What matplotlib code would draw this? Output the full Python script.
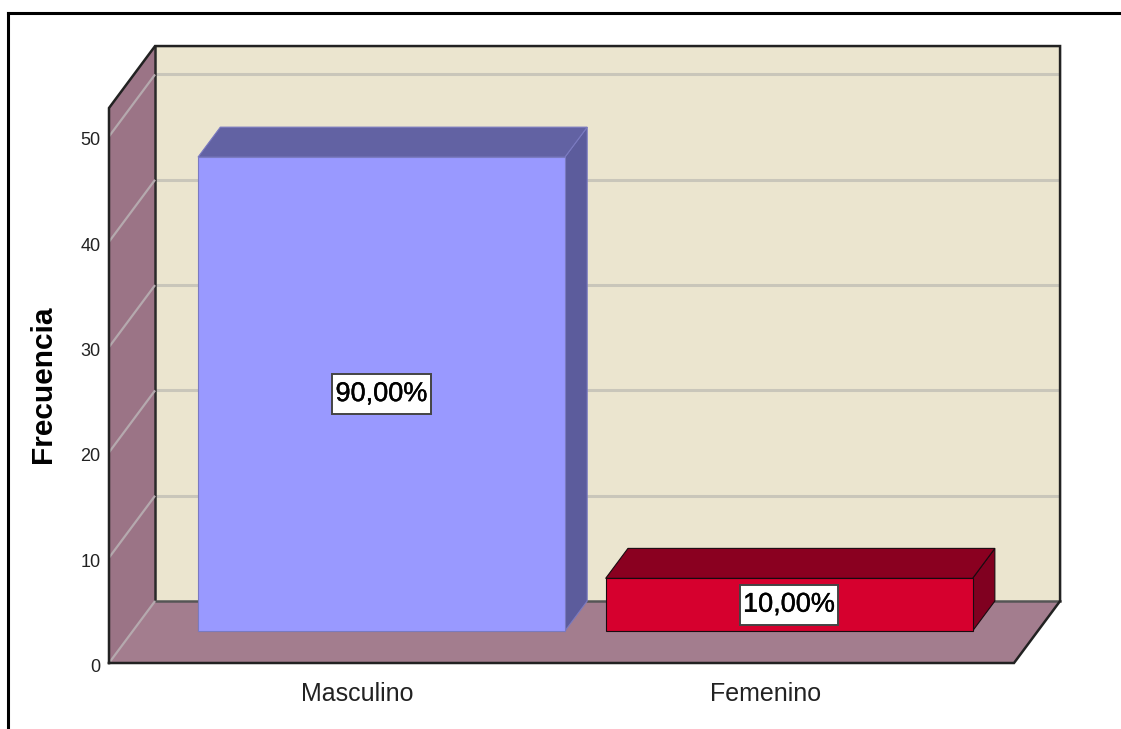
"""Frecuencia por sexo, barras 3D estilo SPSS."""

import matplotlib
matplotlib.use("Agg")
import matplotlib.patheffects as pe
import matplotlib.pyplot as plt
from matplotlib.lines import Line2D
from matplotlib.patches import Polygon, Rectangle
from matplotlib.transforms import ScaledTranslation

categorias = ["Masculino", "Femenino"]
frecuencia = [45, 5]
etiquetas = ["90,00%", "10,00%"]
marcas_y = [0, 10, 20, 30, 40, 50]

W, H = 1121, 729
Y_MAX = 52.7
X_MIN, X_MAX = -0.61, 1.61
# profundidad de la caja en unidades de datos
DX = 46 / 407
DY = 62 / 10.54
Z_BARRA = 0.516  # las barras van de este punto hasta el fondo
ANCHO = 0.9
CAJA_W, CAJA_H = 98 / 407, 40 / 10.54  # recuadro de las etiquetas

PARED = "#9B7486"
PISO = "#A37D8E"
FONDO = "#EBE5CF"
ESTILOS = [("#9999FF", "#6262A3", "#5C5C9C"), ("#D6002E", "#8A0020", "#800020")]
BORDES = ["#7A7AC0", "#1A0A10"]

plt.rcParams["font.family"] = ["Liberation Sans", "DejaVu Sans"]


def p(x, y, z=0.0):
    return (x + z * DX, y + z * DY)


def cara(ax, puntos, color, borde="none", lw=0.0, zorder=1):
    ax.add_patch(Polygon(puntos, closed=True, facecolor=color, edgecolor=borde,
                         linewidth=lw, clip_on=False, zorder=zorder))


fig = plt.figure(figsize=(W / 100, H / 100), dpi=100, facecolor="white")
ax = fig.add_axes([109 / W, 1 - 663 / H, (1014 - 109) / W, (663 - 108) / H])
ax.set_xlim(X_MIN, X_MAX)
ax.set_ylim(0, Y_MAX)
ax.patch.set_visible(False)
for s in ax.spines.values():
    s.set_visible(False)

# caja
BORDE = "#222222"
cara(ax, [p(X_MIN, 0, 1), p(X_MAX, 0, 1), p(X_MAX, Y_MAX, 1), p(X_MIN, Y_MAX, 1)],
     FONDO, zorder=1)
cara(ax, [p(X_MIN, 0), p(X_MIN, 0, 1), p(X_MIN, Y_MAX, 1), p(X_MIN, Y_MAX)],
     PARED, zorder=1)
cara(ax, [p(X_MIN, 0), p(X_MAX, 0), p(X_MAX, 0, 1), p(X_MIN, 0, 1)],
     PISO, zorder=2)

for v in marcas_y:
    x0, y0 = p(X_MIN, v)
    x1, y1 = p(X_MIN, v, 1)
    x2, y2 = p(X_MAX, v, 1)
    ax.plot([x0, x1], [y0, y1], color="#B5A9AE", lw=1.6, clip_on=False, zorder=3,
            solid_capstyle="butt")
    if v > 0:
        ax.plot([x1, x2], [y1, y2], color="#C9C6BA", lw=2.2, clip_on=False, zorder=1.5,
                solid_capstyle="butt")

# contorno de la caja
xs, ys = zip(p(X_MIN, 0), p(X_MIN, Y_MAX), p(X_MIN, Y_MAX, 1), p(X_MAX, Y_MAX, 1),
             p(X_MAX, 0, 1), p(X_MAX, 0), p(X_MIN, 0))
ax.plot(xs, ys, color=BORDE, lw=1.8, clip_on=False, zorder=3, solid_joinstyle="miter")
xs, ys = zip(p(X_MIN, 0, 1), p(X_MIN, Y_MAX, 1))
ax.plot(xs, ys, color="#2A2A2A", lw=1.8, clip_on=False, zorder=1.6)
xs, ys = zip(p(X_MIN, 0, 1), p(X_MAX, 0, 1))
ax.plot(xs, ys, color="#555555", lw=1.8, clip_on=False, zorder=2.1)

# barras
for i, valor in enumerate(frecuencia):
    frente, arriba, lado = ESTILOS[i]
    a, b = i - ANCHO / 2, i + ANCHO / 2
    z0, z1 = Z_BARRA, 1.0
    cara(ax, [p(a, 0, z0), p(b, 0, z0), p(b, 0, z1), p(a, 0, z1)], PISO, zorder=4)
    cara(ax, [p(b, 0, z0), p(b, 0, z1), p(b, valor, z1), p(b, valor, z0)],
         lado, BORDES[i], 0.8, zorder=5)
    cara(ax, [p(a, valor, z0), p(b, valor, z0), p(b, valor, z1), p(a, valor, z1)],
         arriba, BORDES[i], 0.8, zorder=5)
    cara(ax, [p(a, 0, z0), p(b, 0, z0), p(b, valor, z0), p(a, valor, z0)],
         frente, BORDES[i], 0.8, zorder=6)
    cx, cy = p(i, valor / 2, z0)
    ax.add_patch(Rectangle((cx - CAJA_W / 2, cy - CAJA_H / 2), CAJA_W, CAJA_H,
                           facecolor="white", edgecolor="#444444", linewidth=1.4, zorder=7))
    ax.text(cx, cy, etiquetas[i], ha="center", va="center", fontsize=19.5, color="black",
            zorder=8, path_effects=[pe.withStroke(linewidth=0.3, foreground="black")])

ax.set_xticks(range(len(categorias)))
ax.set_xticklabels(categorias, fontsize=18, color="#222222")
ax.set_yticks(marcas_y)
ax.set_yticklabels([str(v) for v in marcas_y], fontsize=13, color="#222222")
ax.tick_params(axis="x", length=0, pad=14)
ax.tick_params(axis="y", length=0, pad=6)
bajar = ScaledTranslation(0, -2.5 / 100, fig.dpi_scale_trans)
for lab in ax.get_yticklabels():
    lab.set_transform(lab.get_transform() + bajar)
ax.set_ylabel("Frecuencia", fontsize=21.5, fontweight="bold")
ax.yaxis.set_label_coords((57 - 109) / (1014 - 109), (663 - 384) / (663 - 108))

# marco exterior
fig.add_artist(Line2D([8 / W, 8 / W], [0, 1 - 13 / H], color="black", lw=2.2,
                      solid_capstyle="projecting"))
fig.add_artist(Line2D([8 / W, 1], [1 - 13 / H, 1 - 13 / H], color="black", lw=2.2,
                      solid_capstyle="projecting"))

fig.savefig("out.png", dpi=100)
